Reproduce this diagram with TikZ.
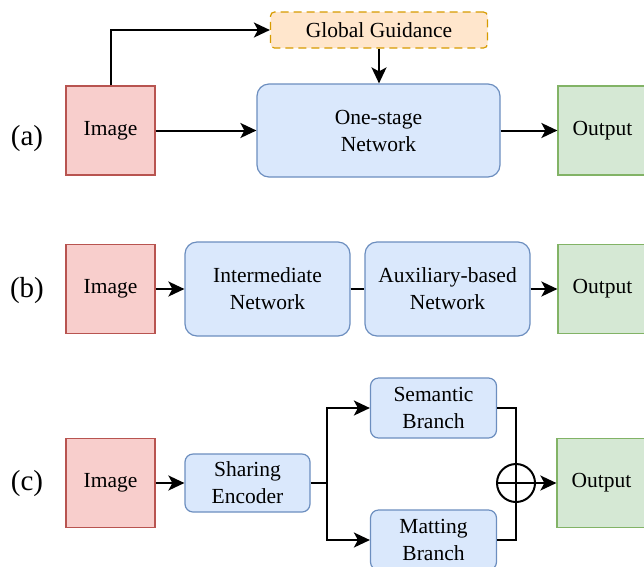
\documentclass[tikz,border=0pt]{standalone}
\usepackage{fontspec}
\newfontfamily\tnr{Liberation Serif}
\usetikzlibrary{arrows.meta}
\definecolor{redf}{HTML}{F8CECC}\definecolor{redd}{HTML}{B85450}
\definecolor{bluef}{HTML}{DAE8FC}\definecolor{blued}{HTML}{6C8EBF}
\definecolor{greenf}{HTML}{D5E8D4}\definecolor{greend}{HTML}{82B366}
\definecolor{orf}{HTML}{FFE6CC}\definecolor{ord}{HTML}{D79B00}
\begin{document}
\begin{tikzpicture}[x=1pt,y=-1pt,
  box/.style={draw, line width=1.2pt, minimum width=89pt, minimum height=89pt, inner sep=0pt,
    font=\tnr\fontsize{21.5}{27}\selectfont, align=center},
  imgbox/.style={box, fill=redf, draw=redd},
  outbox/.style={box, fill=greenf, draw=greend},
  netbox/.style={box, fill=bluef, draw=blued, rounded corners=12pt},
  guidebox/.style={box, fill=orf, draw=ord, dash pattern=on 8pt off 5pt, rounded corners=4pt,
    minimum width=217pt, minimum height=36pt},
  lab/.style={font=\tnr\fontsize{29}{32}\selectfont, inner sep=0pt},
  conn/.style={line width=2pt, black},
  arr/.style={conn, -{Stealth[length=16pt,width=15pt,inset=4pt]}}]
\useasboundingbox (0,0) rectangle (644,566);
% (a)
\node[lab] (la) at (27,139) {(a)};
\node[imgbox] (ia) at (110.5,130.5) {Image};
\node[guidebox] (gg) at (379,30) {Global Guidance};
\node[netbox, minimum width=243pt, minimum height=93pt] (os) at (378.5,130.5) {One-stage\\Network};
\node[outbox] (oa) at (602.5,130.5) {Output};
\draw[arr] (ia.north) |- (gg.west);
\draw[arr] (gg.south) -- (gg.south |- os.north);
\draw[arr] (ia.east) -- (os.west);
\draw[arr] (os.east) -- (oa.west);
% (b)
\node[lab] (lb) at (27,291) {(b)};
\node[imgbox] (ib) at (110.5,289) {Image};
\node[netbox, minimum width=165pt, minimum height=94pt] (inn) at (267.5,289) {Intermediate\\Network};
\node[netbox, minimum width=165pt, minimum height=94pt] (aux) at (447.5,289) {Auxiliary-based\\Network};
\node[outbox] (ob) at (602.5,289) {Output};
\draw[arr] (ib.east) -- (inn.west);
\draw[conn] (inn.east) -- (aux.west);
\draw[arr] (aux.east) -- (ob.west);
% (c)
\node[lab] (lc) at (27,484) {(c)};
\node[imgbox] (ic) at (110.5,483) {Image};
\node[netbox, rounded corners=8pt, minimum width=125pt, minimum height=58pt] (se) at (247.5,483) {Sharing\\Encoder};
\node[netbox, rounded corners=8pt, minimum width=126pt, minimum height=60pt] (sem) at (433.5,408) {Semantic\\Branch};
\node[netbox, rounded corners=8pt, minimum width=126pt, minimum height=60pt] (mat) at (433.5,540) {Matting\\Branch};
\node[outbox] (oc) at (601.5,483) {Output};
\node[circle, draw, line width=2pt, minimum size=38pt, inner sep=0pt] (plus) at (516,483) {};
\coordinate (sp) at (327,483);
\draw[arr] (ic.east) -- (se.west);
\draw[conn] (se.east) -- (sp);
\draw[arr] (sp) |- (sem.west);
\draw[arr] (sp) |- (mat.west);
\draw[conn] (sem.east) -| (plus.north);
\draw[conn] (mat.east) -| (plus.south);
\draw[conn] (plus.north) -- (plus.south);
\draw[conn] (plus.west) -- (plus.east);
\draw[arr] (plus.east) -- (oc.west);
\end{tikzpicture}
\end{document}
